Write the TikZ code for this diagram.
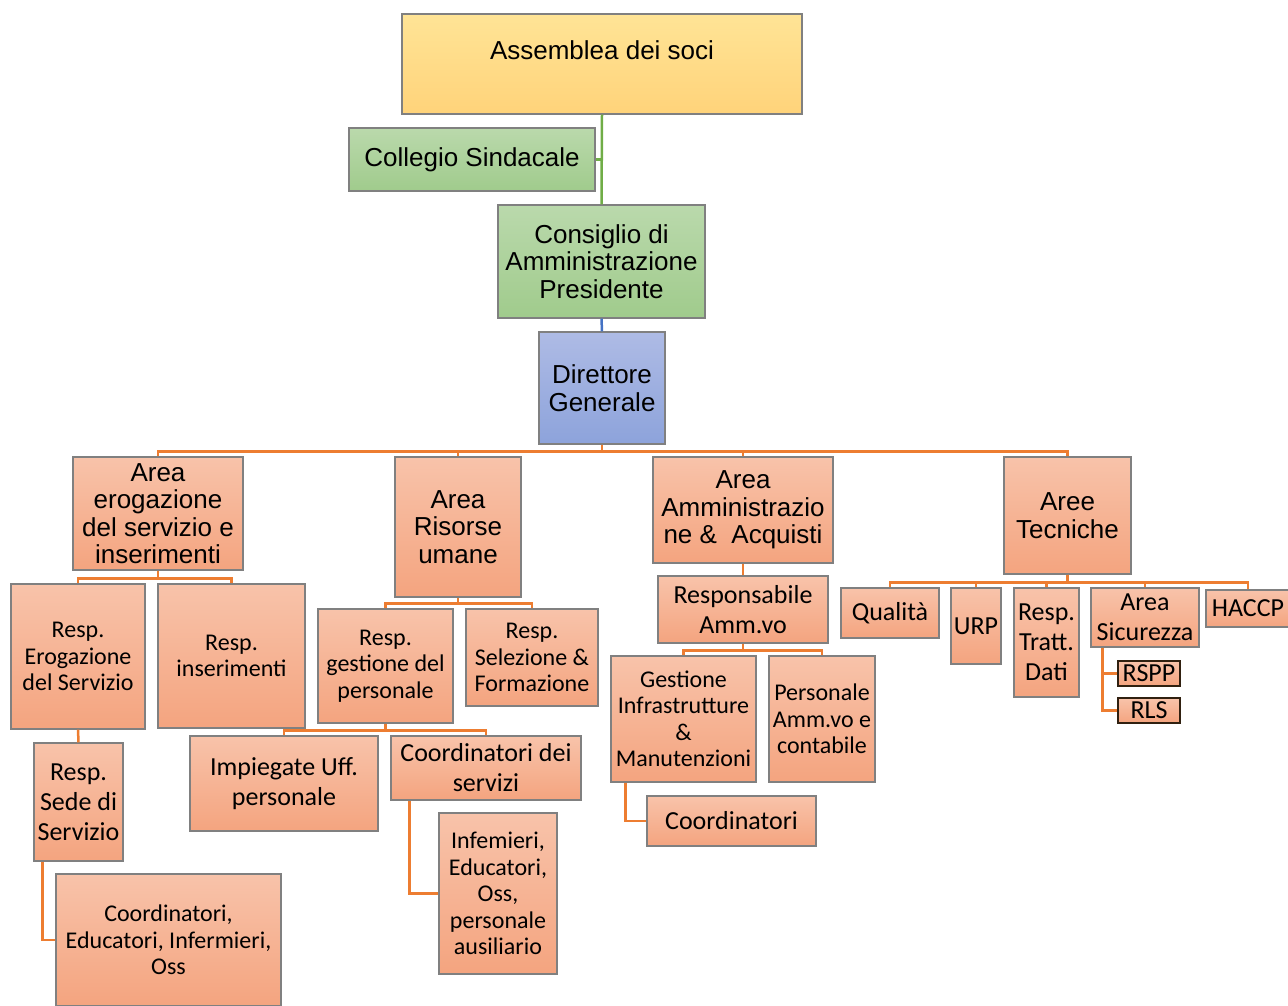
\documentclass[tikz,border=0pt]{standalone}
\usepackage{fontspec}
\setmainfont{Liberation Sans}
\newfontfamily\calibri{Carlito}
\usepackage{tikz}
\usetikzlibrary{
  calc
  , positioning
}

\definecolor{salTop}{RGB}{248,195,170}
\definecolor{salBot}{RGB}{244,164,127}
\definecolor{goldTop}{RGB}{255,228,150}
\definecolor{goldBot}{RGB}{255,211,122}
\definecolor{greenTop}{RGB}{186,217,172}
\definecolor{greenBot}{RGB}{160,203,140}
\definecolor{blueTop}{RGB}{174,187,229}
\definecolor{blueBot}{RGB}{141,163,219}
\definecolor{boxgray}{RGB}{128,128,128}
\definecolor{lineorange}{RGB}{237,125,49}
\definecolor{linegreen}{RGB}{112,173,71}
\definecolor{lineblue}{RGB}{68,114,196}

\tikzset{
  orgbox/.style={draw=boxgray, line width=1.1pt, inner sep=0pt, align=center},
  salbox/.style={orgbox, top color=salTop, bottom color=salBot},
  ariel/.style={font=\fontsize{26}{27.5}\selectfont},
  calS/.style={font=\calibri\fontsize{24}{26.5}\selectfont},
  calL/.style={font=\calibri\fontsize{26}{30}\selectfont},
  orgline/.style={draw=lineorange, line width=2.5pt},
}

\begin{document}
\begin{tikzpicture}[x=1pt, y=-1pt]
  \useasboundingbox (0,0) rectangle (1288,1005);

  % vertice
  \node [orgbox,
    top color=goldTop, bottom color=goldBot,
    minimum width=400pt, minimum height=100pt] (assemblea) at (602,64) {};
  \node [ariel] (assembleaTxt) at ($(assemblea.center)+(0,-14)$) {Assemblea dei soci};
  \node [orgbox, ariel,
    top color=greenTop, bottom color=greenBot,
    minimum width=246pt, minimum height=63pt] (collegio) at (472,159.5) {Collegio Sindacale};
  \node [orgbox, ariel,
    top color=greenTop, bottom color=greenBot,
    minimum width=207pt, minimum height=113pt] (consiglio) at (601.5,261.5)
    {Consiglio di\\Amministrazione\\Presidente};
  \node [orgbox, ariel,
    top color=blueTop, bottom color=blueBot,
    minimum width=126pt, minimum height=112pt] (direttore) at (602,388) {Direttore\\Generale};

  \draw [draw=linegreen, line width=2.5pt] (assemblea.south) -- (consiglio.north);
  \draw [draw=linegreen, line width=2.5pt] (collegio.east) -- (collegio.east -| assemblea.south);
  \draw [draw=lineblue, line width=2.5pt] (consiglio.south) -- (direttore.north);

  % aree
  \node [salbox, ariel, minimum width=170pt, minimum height=113pt] (areaErog) at (158,513.5)
    {Area\\erogazione\\del servizio e\\inserimenti};
  \node [salbox, ariel, minimum width=126pt, minimum height=140pt] (areaRis) at (458,527)
    {Area\\Risorse\\umane};
  \node [salbox, ariel, minimum width=180pt, minimum height=106pt] (areaAmm) at (743,510)
    {Area\\Amministrazio\\ne \& \ Acquisti};
  \node [salbox, ariel, minimum width=127pt, minimum height=117pt] (areeTec) at (1067.5,515.5)
    {Aree\\Tecniche};

  \foreach \n in {areaErog,areaRis,areaAmm,areeTec}
    \draw [orgline] (direttore.south) -- ++(0,7) -| (\n.north);

  % area erogazione
  \node [salbox, calS, minimum width=134pt, minimum height=145pt] (respErog) at (78,656.5)
    {Resp.\\Erogazione\\del Servizio};
  \node [salbox, calS, minimum width=147pt, minimum height=144pt] (respIns) at (231.5,656)
    {Resp.\\inserimenti};
  \node [salbox, calL, minimum width=89pt, minimum height=118pt] (respSede) at (78.5,802)
    {Resp.\\Sede di\\Servizio};
  \node [salbox, calS, minimum width=225pt, minimum height=132pt] (coordEduc) at (168.5,940)
    {Coordinatori,\\Educatori, Infermieri,\\Oss};

  \foreach \n in {respErog,respIns}
    \draw [orgline] (areaErog.south) -- ++(0,8) -| (\n.north);
  \draw [orgline] (respErog.south) -- (respSede.north);
  \draw [orgline] ($(respSede.south west)+(9,0)$) |- (coordEduc.west);

  % area risorse umane
  \node [salbox, calS, minimum width=135pt, minimum height=114pt] (respGest) at (385.5,666)
    {Resp.\\gestione del\\personale};
  \node [salbox, calS, minimum width=132pt, minimum height=97pt] (respSel) at (532,657.5)
    {Resp.\\Selezione \&\\Formazione};
  \node [salbox, calL, minimum width=188pt, minimum height=95pt] (impieg) at (284,783.5)
    {Impiegate Uff.\\personale};
  \node [salbox, calL, minimum width=190pt, minimum height=64pt] (coordServ) at (486,768)
    {Coordinatori dei\\servizi};
  \node [salbox, calS, minimum width=118pt, minimum height=161pt] (infem) at (498,893.5)
    {Infemieri,\\Educatori,\\Oss,\\personale\\ausiliario};

  \foreach \n in {respGest,respSel}
    \draw [orgline] (areaRis.south) -- ++(0,6) -| (\n.north);
  \foreach \n in {impieg,coordServ}
    \draw [orgline] (respGest.south) -- ++(0,7) -| (\n.north);
  \draw [orgline] ($(coordServ.south west)+(19,0)$) |- (infem.west);

  % area amministrazione
  \node [salbox, calL, minimum width=170pt, minimum height=67pt] (respAmm) at (743,609.5)
    {Responsabile\\Amm.vo};
  \node [salbox, calS, minimum width=145pt, minimum height=126pt] (gestInfr) at (683.5,719)
    {Gestione\\Infrastrutture\\\&\\Manutenzioni};
  \node [salbox, calS, minimum width=106pt, minimum height=126pt] (persAmm) at (822,719)
    {Personale\\Amm.vo e\\contabile};
  \node [salbox, calL, minimum width=169pt, minimum height=50pt] (coordAmm) at (731.5,821)
    {Coordinatori};

  \draw [orgline] (areaAmm.south) -- (respAmm.north);
  \foreach \n in {gestInfr,persAmm}
    \draw [orgline] (respAmm.south) -- ++(0,7) -| (\n.north);
  \draw [orgline] ($(gestInfr.south west)+(15,0)$) |- (coordAmm.west);

  % aree tecniche
  \node [salbox, calL, minimum width=98pt, minimum height=50pt] (qualita) at (890,613) {Qualità};
  \node [salbox, calL, minimum width=50pt, minimum height=76pt] (urp) at (976,626) {URP};
  \node [salbox, calL, minimum width=65pt, minimum height=109pt] (respTratt) at (1046.5,642.5)
    {Resp.\\Tratt.\\Dati};
  \node [salbox, calL, minimum width=108pt, minimum height=59pt] (areaSic) at (1145,617.5)
    {Area\\Sicurezza};
  \node [salbox, calL, minimum width=84pt, minimum height=37pt] (haccp) at (1248,608.5) {HACCP};
  \node [salbox, calL, draw=black!75!brown, minimum width=62pt, minimum height=25pt] (rspp) at (1149,673.5) {RSPP};
  \node [salbox, calL, draw=black!75!brown, minimum width=62pt, minimum height=25pt] (rls) at (1149,710.5) {RLS};

  \foreach \n in {qualita,urp,respTratt,areaSic,haccp}
    \draw [orgline] (areeTec.south) -- ++(0,8) -| (\n.north);
  \draw [orgline] ($(areaSic.south west)+(12,0)$) |- (rspp.west);
  \draw [orgline] ($(areaSic.south west)+(12,0)$) |- (rls.west);
\end{tikzpicture}
\end{document}
